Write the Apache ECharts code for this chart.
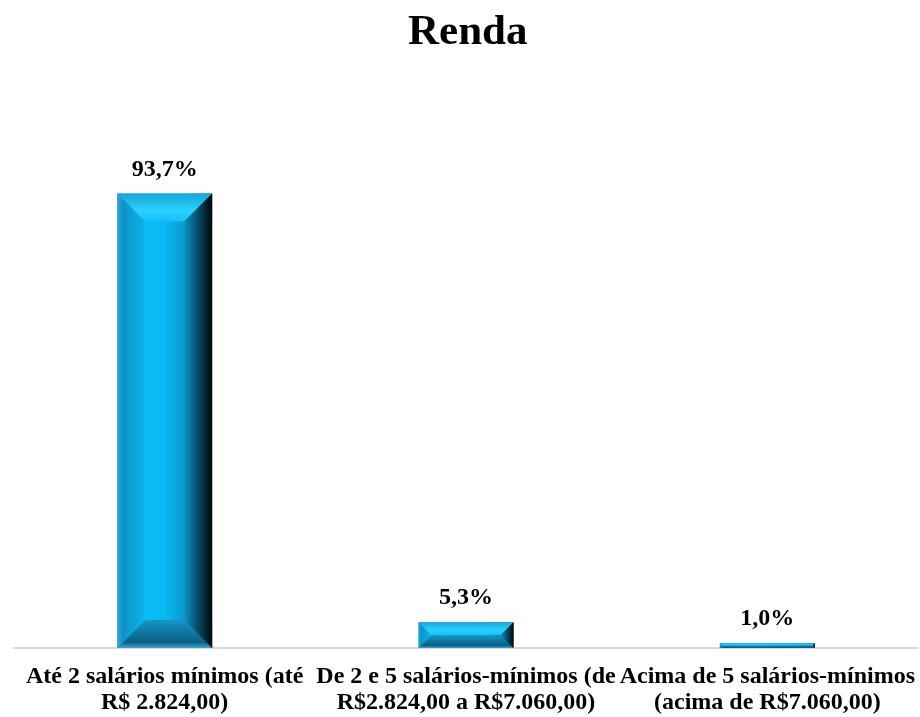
<!DOCTYPE html>
<html lang="pt">
<head>
    <meta charset="UTF-8">
    <title>Renda</title>
    <style>
        html, body { margin: 0; padding: 0; background: #fff; }
        #main { width: 920px; height: 717px; }
    </style>
</head>
<body>
    <div id="main"></div>
    <script src="https://cdn.jsdelivr.net/npm/echarts@6/dist/echarts.min.js"></script>
    <script>
        var categorias = [
            'Até 2 salários mínimos (até\nR$ 2.824,00)',
            'De 2 e 5 salários-mínimos (de\nR$2.824,00 a R$7.060,00)',
            'Acima de 5 salários-mínimos\n(acima de R$7.060,00)'
        ];
        var percentuais = [93.7, 5.3, 1.0];

        var fonte = '"Liberation Serif", "Times New Roman", serif';
        var larguraBarra = 95;

        function grad(x2, y2, stops) {
            return new echarts.graphic.LinearGradient(0, 0, x2, y2, stops);
        }

        // barra com chanfro (imita o efeito 3D do Excel)
        function desenhaBarra(params, api) {
            var topo = api.coord([api.value(0), api.value(1)]);
            var base = api.coord([api.value(0), 0]);
            var l = topo[0] - larguraBarra / 2, r = topo[0] + larguraBarra / 2;
            var t = topo[1], b = base[1];
            var h = b - t;
            var c = Math.min(28, h / 2, larguraBarra / 2);
            return {
                type: 'group',
                children: [
                    {
                        type: 'rect',
                        shape: { x: l, y: t, width: larguraBarra, height: h },
                        style: {
                            fill: grad(1, 0, [
                                { offset: 0, color: '#0a9fd6' },
                                { offset: 0.25, color: '#0cbcf5' },
                                { offset: 0.5, color: '#0ab8f2' },
                                { offset: 0.72, color: '#0a98c8' },
                                { offset: 1, color: '#063c55' }
                            ])
                        }
                    },
                    {
                        type: 'polygon',
                        shape: { points: [[l, t], [r, t], [r - c, t + c], [l + c, t + c]] },
                        style: {
                            fill: grad(0, 1, [
                                { offset: 0, color: '#1aa6d8' },
                                { offset: 0.6, color: '#2ad0ff' },
                                { offset: 1, color: '#14c0f8' }
                            ])
                        }
                    },
                    {
                        type: 'polygon',
                        shape: { points: [[l, b], [r, b], [r - c, b - c], [l + c, b - c]] },
                        style: {
                            fill: grad(0, 1, [
                                { offset: 0, color: '#1696c8' },
                                { offset: 0.8, color: '#0b5f82' },
                                { offset: 1, color: '#3aa8d4' }
                            ])
                        }
                    },
                    {
                        type: 'polygon',
                        shape: { points: [[r, t], [r, b], [r - c, b - c], [r - c, t + c]] },
                        style: {
                            fill: grad(1, 0, [
                                { offset: 0, color: '#0a94c5' },
                                { offset: 0.5, color: '#064a66' },
                                { offset: 1, color: '#000608' }
                            ])
                        }
                    },
                    {
                        type: 'polygon',
                        shape: { points: [[l, t], [l, b], [l + c, b - c], [l + c, t + c]] },
                        style: {
                            fill: grad(1, 0, [
                                { offset: 0, color: '#3aa8d4' },
                                { offset: 0.2, color: '#0e92c8' },
                                { offset: 1, color: '#0cb4ee' }
                            ])
                        }
                    }
                ]
            };
        }

        var myChart = echarts.init(document.getElementById('main'));
        var option = {
            animation: false,
            title: {
                text: 'Renda',
                left: 403,
                top: 6,
                textStyle: {
                    fontFamily: fonte,
                    fontSize: 43,
                    fontWeight: 'bold',
                    color: '#000'
                }
            },
            grid: {
                left: 14,
                right: 2,
                top: 163,
                bottom: 69
            },
            xAxis: {
                type: 'category',
                data: categorias,
                axisTick: { show: false },
                axisLine: {
                    lineStyle: { color: '#d9d9d9', width: 2 }
                },
                axisLabel: {
                    interval: 0,
                    margin: 16,
                    lineHeight: 26,
                    fontFamily: fonte,
                    fontSize: 24,
                    fontWeight: 'bold',
                    color: '#000'
                }
            },
            yAxis: {
                type: 'value',
                min: 0,
                max: 100,
                show: false,
                splitLine: { show: false }
            },
            series: [
                {
                    // barra invisivel apenas para os rotulos
                    type: 'bar',
                    data: percentuais,
                    barWidth: larguraBarra,
                    silent: true,
                    itemStyle: { color: 'rgba(0,0,0,0)' },
                    label: {
                        show: true,
                        position: 'top',
                        distance: 12,
                        fontFamily: fonte,
                        fontSize: 24,
                        fontWeight: 'bold',
                        color: '#000',
                        formatter: function (p) {
                            return p.value.toFixed(1).replace('.', ',') + '%';
                        }
                    }
                },
                {
                    type: 'custom',
                    renderItem: desenhaBarra,
                    data: percentuais.map(function (v, i) { return [i, v]; }),
                    encode: { x: 0, y: 1 },
                    z: 3
                }
            ]
        };
        myChart.setOption(option);
    </script>
</body>
</html>
